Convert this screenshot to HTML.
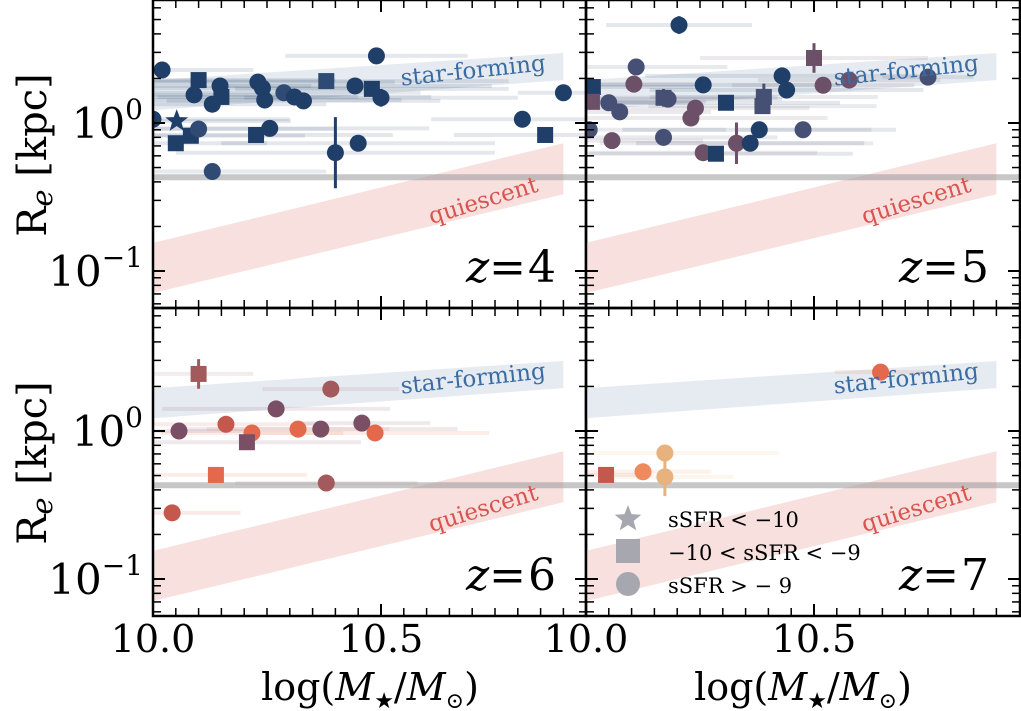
<!DOCTYPE html>
<html><head><meta charset="utf-8"><style>
html,body{margin:0;padding:0;background:#fff;}
svg{display:block;}
text{font-family:"DejaVu Serif","Liberation Serif",serif;}
</style></head><body>
<svg id="chart" width="1021" height="711" viewBox="0 0 1021 711" xmlns="http://www.w3.org/2000/svg">
<defs>
<clipPath id="clip0"><rect x="153" y="0" width="433" height="308"/></clipPath>
<clipPath id="clip1"><rect x="586" y="0" width="434" height="308"/></clipPath>
<clipPath id="clip2"><rect x="153" y="308" width="433" height="308"/></clipPath>
<clipPath id="clip3"><rect x="586" y="308" width="434" height="308"/></clipPath>
</defs>
<g id="layer"></g>
<text transform="translate(46,155) rotate(-90)" text-anchor="middle" font-size="40">R<tspan font-style="italic" font-size="29" dy="6">e</tspan><tspan dy="-6"> [kpc]</tspan></text>
<text transform="translate(46,463) rotate(-90)" text-anchor="middle" font-size="40">R<tspan font-style="italic" font-size="29" dy="6">e</tspan><tspan dy="-6"> [kpc]</tspan></text>
<text x="370" y="700" text-anchor="middle" font-size="38">log(<tspan font-style="italic">M</tspan><tspan font-size="22" dy="8">★</tspan><tspan dy="-8">/</tspan><tspan font-style="italic">M</tspan><tspan font-size="22" dy="8">⊙</tspan><tspan dy="-8">)</tspan></text>
<text x="803" y="700" text-anchor="middle" font-size="38">log(<tspan font-style="italic">M</tspan><tspan font-size="22" dy="8">★</tspan><tspan dy="-8">/</tspan><tspan font-style="italic">M</tspan><tspan font-size="22" dy="8">⊙</tspan><tspan dy="-8">)</tspan></text>
</svg>
<script>
// ---- data ----
const zLabels = ["4","5","6","7"];
// z=4
const m4 = [10.02,10.00,10.052,10.05,10.083,10.10,10.09,10.10,10.147,10.15,10.13,10.13,10.23,10.24,10.245,10.256,10.226,10.287,10.31,10.33,10.38,10.40,10.443,10.45,10.49,10.48,10.50,10.81,10.86,10.90];
const r4 = [2.28,1.06,1.03,0.73,0.82,0.91,1.55,1.95,1.78,1.5,1.34,0.47,1.89,1.72,1.43,0.92,0.83,1.6,1.5,1.41,1.92,0.63,1.78,0.73,2.84,1.70,1.48,1.06,0.83,1.6];
const s4 = ["c","c","star","sq","sq","c","c","sq","c","sq","c","c","c","c","c","c","sq","c","c","c","sq","c","c","c","c","sq","c","c","sq","c"];
const c4 = [0,0,0,0,0,1,0,0,0,0,0,1,0,0,0,0,0,1,0,0,1,0,0,0,0,0,0,0,0,0];
const xe4 = [0.2,0.3,0.25,0.2,0.25,0.3,0.25,0.3,0.2,0.3,0.25,0.25,0.3,0.25,0.3,0.35,0.3,0.3,0.3,0.3,0.4,0.35,0.3,0.3,0.2,0.3,0.3,0.2,0.2,0.1];
const ye4 = [0,0,0,0,0,0,0,0,0,0,0,0,0,0,0,0,0,0,0,0,0,0.24,0,0,0,0,0.06,0,0,0];
// z=5
const m5 = [10.204,10.11,10.105,10.015,10.013,10.05,10.074,10.007,10.057,10.17,10.17,10.18,10.257,10.24,10.23,10.257,10.285,10.307,10.33,10.36,10.38,10.39,10.387,10.43,10.44,10.476,10.50,10.52,10.577,10.75];
const r5 = [4.59,2.39,1.83,1.75,1.39,1.37,1.19,0.90,0.76,0.80,1.48,1.45,1.81,1.26,1.08,0.63,0.62,1.37,0.73,0.73,0.90,1.5,1.3,2.08,1.67,0.90,2.75,1.8,1.95,2.04];
const s5 = ["c","c","c","sq","sq","c","c","c","c","c","sq","c","c","c","c","c","sq","sq","c","c","c","sq","sq","c","c","c","sq","c","c","c"];
const c5 = [0,3,4,0,4,3,3,3,4,3,3,3,0,4,4,4,0,0,4,0,0,3,3,0,0,3,4,4,4,3];
const xe5 = [0.16,0.2,0.15,0.25,0.25,0.2,0.2,0.3,0.2,0.25,0.25,0.25,0.3,0.25,0.3,0.25,0.3,0.25,0.3,0.25,0.3,0.25,0.25,0.3,0.3,0.15,0.25,0.2,0.2,0.1];
const ye5 = [0.06,0.04,0,0,0.05,0,0,0,0,0.04,0.06,0,0,0,0,0,0,0.03,0.14,0,0,0.09,0,0,0,0,0.1,0,0,0];
// z=6
const m6 = [10.10,10.39,10.27,10.057,10.16,10.217,10.206,10.318,10.368,10.458,10.487,10.138,10.38,10.042];
const r6 = [2.43,1.92,1.41,1.0,1.11,0.97,0.84,1.03,1.03,1.13,0.97,0.505,0.445,0.28];
const s6 = ["sq","c","c","c","c","c","sq","c","c","c","c","sq","c","c"];
const c6 = [5,5,6,6,7,8,6,8,6,6,8,8,5,7];
const xe6 = [0.12,0.15,0.25,0.15,0.2,0.2,0.25,0.2,0.3,0.15,0.25,0.2,0.2,0.15];
const ye6 = [0.1,0,0,0,0,0,0,0,0,0,0,0,0,0];
// z=7
const m7 = [10.646,10.044,10.125,10.173,10.173];
const r7 = [2.5,0.505,0.53,0.71,0.49];
const s7 = ["c","sq","c","c","c"];
const c7 = [8,7,9,10,10];
const xe7 = [0.1,0.1,0.15,0.25,0.15];
const ye7 = [0,0,0,0,0.13];
// scaling bands
const bandM = [10.0,10.9];
const sfLo = [1.22,1.95], sfHi = [1.95,2.97];
const qLo = [0.071,0.33], qHi = [0.155,0.73];
const resLimit = 0.43;
const xTicks = [10.0,10.5];
const xTickLabels = ["10.0","10.5"];
const yTicks = [0.1,1];
const yTickLabels = [["10","−1"],["10","0"]];

const palette = ["#1f3e68","#2f4b74","#2f4b74","#464f74","#6b5068","#a25a5c","#7a4e64","#c5584c","#e4694c","#ef8a5e","#e8b27e"];
const panels = [
 {x0:153,y0:0,m:m4,r:r4,s:s4,c:c4,xe:xe4,ye:ye4},
 {x0:586,y0:0,m:m5,r:r5,s:s5,c:c5,xe:xe5,ye:ye5},
 {x0:153,y0:308,m:m6,r:r6,s:s6,c:c6,xe:xe6,ye:ye6},
 {x0:586,y0:308,m:m7,r:r7,s:s7,c:c7,xe:xe7,ye:ye7}
];
const W=434,H=308,PX=456,PY=148,Y0OFF=123;
const NS="http://www.w3.org/2000/svg";
const layer=document.getElementById('layer');
function mk(tag,attrs,parent){const e=document.createElementNS(NS,tag);for(const k in attrs)e.setAttribute(k,attrs[k]);(parent||layer).appendChild(e);return e;}

panels.forEach((p,i)=>{
  const X=m=>p.x0+(m-10)*PX;
  const Y=r=>p.y0+Y0OFF-Math.log10(r)*PY;
  const g=mk('g',{'clip-path':`url(#clip${i})`});
  
  
  const sf=mk('polygon',{points:`${X(bandM[0])},${Y(sfLo[0])} ${X(bandM[1])},${Y(sfLo[1])} ${X(bandM[1])},${Y(sfHi[1])} ${X(bandM[0])},${Y(sfHi[0])}`,fill:'#e6ebf1'},g);
  
  
  const q=mk('polygon',{points:`${X(bandM[0])},${Y(qLo[0])} ${X(bandM[1])},${Y(qLo[1])} ${X(bandM[1])},${Y(qHi[1])} ${X(bandM[0])},${Y(qHi[0])}`,fill:'#f7e0de'},g);
  
  
  p.m.forEach((m,k)=>{
    const col=palette[p.c[k]];
    const e=mk('line',{x1:X(m-p.xe[k]),x2:X(m+p.xe[k]),y1:Y(p.r[k]),y2:Y(p.r[k]),stroke:col,'stroke-opacity':0.12,'stroke-width':4},g);
    
    
  });
  const gl=mk('line',{x1:p.x0,x2:p.x0+W,y1:Y(resLimit),y2:Y(resLimit),stroke:'#999','stroke-opacity':0.55,'stroke-width':6},g);
  
  
  p.m.forEach((m,k)=>{
    const col=palette[p.c[k]], cx=X(m), cy=Y(p.r[k]);
    if(p.ye[k]>0){
      const ye=mk('line',{x1:cx,x2:cx,y1:Y(p.r[k]*Math.pow(10,p.ye[k])),y2:Y(p.r[k]/Math.pow(10,p.ye[k])),stroke:col,'stroke-width':3},g);
      
      
    }
    let el;
    if(p.s[k]==='c') el=mk('circle',{cx:cx,cy:cy,r:8.5,fill:col},g);
    else if(p.s[k]==='sq') el=mk('rect',{x:cx-8,y:cy-8,width:16,height:16,fill:col},g);
    else el=mk('polygon',{points:star(cx,cy,12,5),fill:col},g);
    
    
  });
  const sft=mk('text',{x:p.x0+320,y:p.y0+78,'text-anchor':'middle','font-size':23,fill:'#3a6ca4',transform:`rotate(-6 ${p.x0+320} ${p.y0+70})`});
  sft.textContent='star-forming';
  
  
  const qt=mk('text',{x:p.x0+330,y:p.y0+208,'text-anchor':'middle','font-size':23,fill:'#d9534f',transform:`rotate(-17 ${p.x0+330} ${p.y0+200})`});
  qt.textContent='quiescent';
  
  
  const zt=mk('text',{x:p.x0+403,y:p.y0+282,'text-anchor':'end','font-size':44,fill:'#000'});
  zt.innerHTML='<tspan font-style="italic">z</tspan>=<tspan dx="2">'+zLabels[i]+'</tspan>';
  
  
  const fr=mk('rect',{x:p.x0,y:p.y0,width:(i%2===0?433:434),height:H,fill:'none',stroke:'#000','stroke-width':2.5});
  
  
  for(let t=0;t<=19;t++){
    const mv=10+t*0.05, x=X(mv); if(x>p.x0+W-2) break;
    const major=(t%10===0), L=major?12:8;
    mk('line',{x1:x,x2:x,y1:p.y0+H,y2:p.y0+H-L,stroke:'#000','stroke-width':major?2:1.5});
    mk('line',{x1:x,x2:x,y1:p.y0,y2:p.y0+L,stroke:'#000','stroke-width':major?2:1.5});
  }
  for(let d=-2;d<=0;d++){for(let f=1;f<=9;f++){
    const v=f*Math.pow(10,d), y=Y(v); if(y<p.y0+1||y>p.y0+H-1) continue;
    const L=f===1?12:8;
    mk('line',{x1:p.x0,x2:p.x0+L,y1:y,y2:y,stroke:'#000','stroke-width':f===1?2:1.5});
    mk('line',{x1:p.x0+W,x2:p.x0+W-L,y1:y,y2:y,stroke:'#000','stroke-width':f===1?2:1.5});
  }}
  if(i%2===0){
    yTicks.forEach((v,k)=>{
      const t=mk('text',{x:p.x0-10,y:Y(v)+15,'text-anchor':'end','font-size':42});
      t.innerHTML=yTickLabels[k][0]+'<tspan font-size="28" dy="-19">'+yTickLabels[k][1]+'</tspan>';
      
      
    });
  }
  if(i>=2){
    xTicks.forEach((v,k)=>{
      const t=mk('text',{x:X(v),y:652,'text-anchor':'middle','font-size':38});
      t.textContent=xTickLabels[k];
      
      
    });
  }
});
function star(cx,cy,R,r){let s=[];for(let i=0;i<10;i++){const a=-Math.PI/2+i*Math.PI/5,rr=i%2?r:R;s.push((cx+rr*Math.cos(a)).toFixed(1)+','+(cy+rr*Math.sin(a)).toFixed(1));}return s.join(' ');}
const lg=mk('g',{});


const legCol='#a7a7b0';
const ls=mk('polygon',{points:star(628,519,14,6),fill:legCol},lg);


const lq=mk('rect',{x:616,y:539,width:24,height:24,fill:legCol},lg);


const lc=mk('circle',{cx:628,cy:584,r:12,fill:legCol},lg);


const legTexts=["sSFR < −10","−10 < sSFR < −9","sSFR > − 9"];
legTexts.forEach((s,k)=>{
  const t=mk('text',{x:668,y:527+k*33,'font-size':21},lg);
  t.textContent=s;
  
  
});
</script>
</body></html>
